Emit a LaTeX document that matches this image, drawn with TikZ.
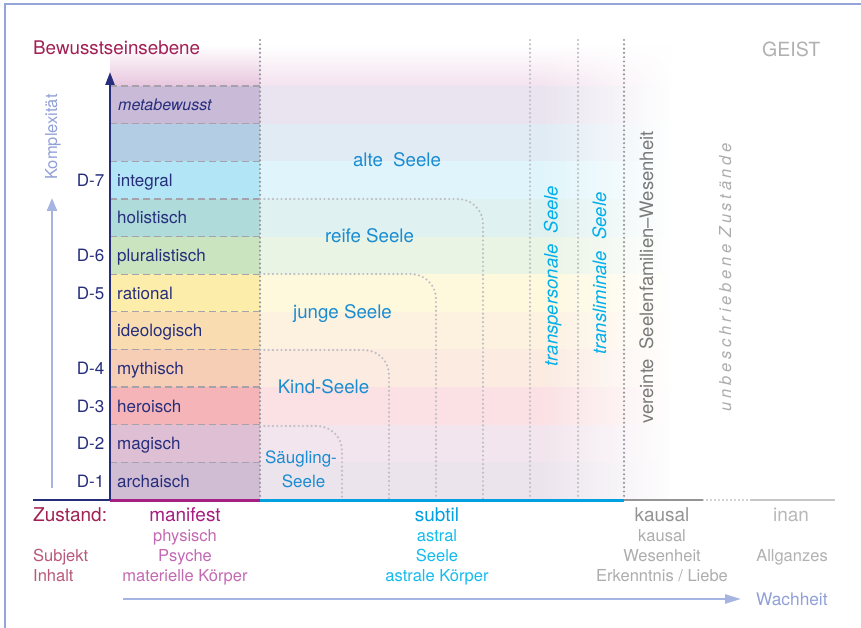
\documentclass[tikz,border=0pt]{standalone}
\usepackage{fontspec}
\setmainfont{TeX Gyre Heros}
\usetikzlibrary{arrows.meta,fadings}
\tikzfading[name=fadeR, left color=transparent!100, right color=transparent!0]
\newcommand\myfs[1]{\fontsize{#1}{#1}\selectfont}
\definecolor{navy}{RGB}{38,46,124}
\definecolor{maroon}{RGB}{162,32,84}
\definecolor{manif}{RGB}{165,30,130}
\definecolor{manifsub}{RGB}{195,105,178}
\definecolor{subjc}{RGB}{185,88,122}
\definecolor{cyanA}{RGB}{0,160,225}
\definecolor{cyanB}{RGB}{20,188,238}
\definecolor{soulblue}{RGB}{25,140,210}
\definecolor{vcyan}{RGB}{0,175,235}
\definecolor{arrowc}{RGB}{165,180,225}
\definecolor{labc}{RGB}{145,160,215}
\definecolor{framec}{RGB}{150,165,215}
\definecolor{dashgray}{RGB}{165,162,172}
\definecolor{dotdark}{RGB}{150,150,156}
\definecolor{dotlight}{RGB}{190,190,196}
\definecolor{topPink}{RGB}{232,198,222}
\definecolor{rA}{RGB}{201,187,216}
\definecolor{rB}{RGB}{178,205,228}
\definecolor{rC}{RGB}{178,229,246}
\definecolor{rD}{RGB}{175,220,218}
\definecolor{rE}{RGB}{201,228,191}
\definecolor{rF}{RGB}{253,237,171}
\definecolor{rG}{RGB}{249,221,177}
\definecolor{rH}{RGB}{246,205,181}
\definecolor{rI}{RGB}{244,180,184}
\definecolor{rJ}{RGB}{223,191,211}
\definecolor{rK}{RGB}{208,189,211}
\tikzset{
  lvl/.style={anchor=base west, inner sep=0pt, text=navy, font=\myfs{17}},
  dlab/.style={anchor=base east, inner sep=0pt, text=navy, font=\myfs{17}},
  soul/.style={anchor=base, inner sep=0pt, text=soulblue, font=\myfs{18.7}},
  vlab/.style={anchor=base, inner sep=0pt, rotate=90},
  botmain/.style={anchor=base, inner sep=0pt, font=\myfs{19}},
  botsub/.style={anchor=base, inner sep=0pt, font=\myfs{16.5}},
  dotl/.style={line width=2.4pt, dash pattern=on 0pt off 4.3pt, line cap=round},
  rowdash/.style={draw=dashgray, line width=1.2pt, dash pattern=on 7pt off 4pt},
  soulline/.style={dotl, draw=dotlight, rounded corners=25pt},
}
\begin{document}
\begin{tikzpicture}[x=1pt,y=-1pt]
\useasboundingbox (0,0) rectangle (861,628);
\fill[white] (0,0) rectangle (861,628);
% frame
\draw[framec, line width=2pt] (4.5,628) -- (4.5,4.5) -- (861,4.5);
% bands
\foreach \c [count=\i from 0] in {rA,rB,rC,rD,rE,rF,rG,rH,rI,rJ,rK} {
  \pgfmathsetmacro\ya{86+\i*37.636}
  \pgfmathsetmacro\yb{86+(\i+1)*37.636}
  \fill[\c] (110,\ya) rectangle (260,\yb);
  \fill[\c!40] (260,\ya) rectangle (670,\yb);
}
\shade[top color=white, bottom color=topPink] (110,45) rectangle (260,86);
\shade[top color=white, bottom color=topPink!50] (260,45) rectangle (670,86);
\fill[white, path fading=fadeR] (540,38) rectangle (672,501);
% row dashes
\foreach \i in {0,...,10} {
  \pgfmathsetmacro\ya{86+\i*37.636}
  \draw[rowdash] (110,\ya) -- (260,\ya);
}
% vertical dotted separators
\draw[dotl, draw=dotdark] (260,40) -- (260,500);
\draw[dotl, draw=dotlight] (530,40) -- (530,500);
\draw[dotl, draw=dotlight] (578,40) -- (578,500);
\draw[dotl, draw=dotdark] (624,40) -- (624,500);
% soul boundaries
\draw[soulline] (260,426) -- (342,426) -- (342,500);
\draw[soulline] (260,350) -- (389,350) -- (389,500);
\draw[soulline] (260,274) -- (436,274) -- (436,500);
\draw[soulline] (260,199) -- (483,199) -- (483,500);
% axes coordinates
\coordinate (o0) at (33,500);
\coordinate (o1) at (110,500);
\coordinate (o2) at (260,500);
\coordinate (o3) at (624,500);
\coordinate (o4) at (703,500);
\coordinate (o5) at (750,500);
\coordinate (o6) at (835,500);
\coordinate (axTop) at (110,72);
\coordinate (kA) at (52,488);
\coordinate (kB) at (52,198);
\coordinate (wA) at (123,599);
\coordinate (wB) at (741,599);
\draw[navy, line width=2.5pt] (o0) -- (o1);
\draw[manif, line width=3pt] (o1) -- (o2);
\draw[cyanA, line width=3pt] (o2) -- (o3);
\draw[black!42, line width=2.5pt] (o3) -- (o4);
\draw[black!35, line width=1.6pt, dash pattern=on 0pt off 4pt, line cap=round] (o4) -- (o5);
\draw[black!22, line width=2.5pt] (o5) -- (o6);
\draw[navy, line width=2.4pt, -{Triangle[length=13pt,width=9pt]}] (o1) -- (axTop);
\draw[arrowc, line width=2.5pt, -{Triangle[length=13pt,width=10pt]}] (kA) -- (kB);
\draw[arrowc, line width=2.5pt, -{Triangle[length=16pt,width=9pt]}] (wA) -- (wB);
% titles
\node[anchor=base west, inner sep=0pt, text=maroon, font=\myfs{18.8}] (title) at (33,55) {Bewusstseinsebene};
\node[anchor=base west, inner sep=0pt, text=black!31, font=\myfs{19.5}] (geist) at (762,57) {GEIST};
\node[vlab, text=labc, font=\myfs{16.5}] (kompl) at (57,137) {Komplexität};
% level labels
\node[lvl, font=\myfs{16}\itshape] (l11) at (118,110.8) {metabewusst};
\node[lvl] (l9) at (117,186.1) {integral};
\node[lvl] (l8) at (117,223.8) {holistisch};
\node[lvl] (l7) at (117,261.5) {pluralistisch};
\node[lvl] (l6) at (117,299.1) {rational};
\node[lvl] (l5) at (117,336.7) {ideologisch};
\node[lvl] (l4) at (117,374.4) {mythisch};
\node[lvl] (l3) at (117,412.0) {heroisch};
\node[lvl] (l2) at (117,449.6) {magisch};
\node[lvl] (l1) at (117,487.3) {archaisch};
\node[dlab] (d7) at (104.5,186.1) {D-7};
\node[dlab] (d6) at (104.5,261.5) {D-6};
\node[dlab] (d5) at (104.5,299.1) {D-5};
\node[dlab] (d4) at (104.5,374.4) {D-4};
\node[dlab] (d3) at (104.5,412.0) {D-3};
\node[dlab] (d2) at (104.5,449.6) {D-2};
\node[dlab] (d1) at (104.5,487.3) {D-1};
% soul labels
\node[soul] (s5) at (397,167) {alte\hspace{0.55em}Seele};
\node[soul] (s4) at (369.5,242) {reife Seele};
\node[soul] (s3) at (342.5,318) {junge Seele};
\node[soul] (s2) at (323.5,393) {Kind-Seele};
\node[soul, font=\myfs{17}] (s1a) at (301,463) {Säugling-};
\node[soul, font=\myfs{17}] (s1b) at (303.5,487) {Seele};
% vertical labels
\node[vlab, text=vcyan, font=\myfs{18.5}\itshape] (tp) at (557.5,276) {transpersonale\hspace{0.6em}Seele};
\node[vlab, text=vcyan, font=\myfs{18.5}\itshape] (tl) at (606,273.5) {transliminale\hspace{0.6em}Seele};
\node[vlab, text=black!52, font=\myfs{18.5}] (ver) at (653,277.5) {vereinte\hspace{0.5em}Seelenfamilien–Wesenheit};
\node[vlab, text=black!32, font=\myfs{16.5}\itshape\addfontfeature{LetterSpace=23}] (unb) at (731,277) {unbeschriebene\hspace{0.4em}Zustände};
% bottom labels
\node[anchor=base west, inner sep=0pt, text=maroon, font=\myfs{19}] (zust) at (33,521) {Zustand:};
\node[anchor=base west, inner sep=0pt, text=subjc, font=\myfs{16.5}] (subj) at (33,561) {Subjekt};
\node[anchor=base west, inner sep=0pt, text=subjc, font=\myfs{16.5}] (inh) at (33,581) {Inhalt};
\node[botmain, text=manif] (man) at (185,521) {manifest};
\node[botsub, text=manifsub] (man1) at (185,541) {physisch};
\node[botsub, text=manifsub] (man2) at (185,561) {Psyche};
\node[botsub, text=manifsub] (man3) at (185,581) {materielle Körper};
\node[botmain, text=cyanA] (sub) at (437,521) {subtil};
\node[botsub, text=cyanB] (sub1) at (437,541) {astral};
\node[botsub, text=cyanB] (sub2) at (437,561) {Seele};
\node[botsub, text=cyanB] (sub3) at (437,581) {astrale Körper};
\node[botmain, text=black!42] (kau) at (662,521) {kausal};
\node[botsub, text=black!32] (kau1) at (662,541) {kausal};
\node[botsub, text=black!32] (kau2) at (662,561) {Wesenheit};
\node[botsub, text=black!32] (kau3) at (662,581) {Erkenntnis / Liebe};
\node[botmain, text=black!28] (inan) at (791,521) {inan};
\node[botsub, text=black!30] (inan2) at (792,561) {Allganzes};
\node[anchor=base west, inner sep=0pt, text=labc, font=\myfs{17.3}] (wach) at (756,605) {Wachheit};
\end{tikzpicture}
\end{document}
